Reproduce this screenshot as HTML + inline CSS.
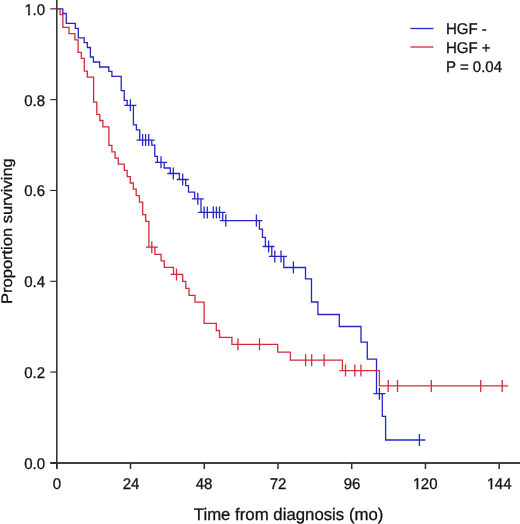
<!DOCTYPE html>
<html><head><meta charset="utf-8"><style>
html,body{margin:0;padding:0;background:#fff;overflow:hidden;}
body{width:520px;height:524px;overflow:hidden;font-family:"Liberation Sans", sans-serif;}
svg{display:block;position:absolute;left:0;top:0;}
.one{display:inline-block;position:relative;left:0.5px;clip-path:polygon(0 0,100% 0,100% 9.6px,5.5px 9.6px,5.5px 100%,3.65px 100%,3.65px 9.6px,0 9.6px);}
.t{position:absolute;white-space:nowrap;color:#111;font-family:"Liberation Sans", sans-serif;text-rendering:geometricPrecision;-webkit-text-stroke:0.3px #111;}
</style></head><body>
<svg width="520" height="524" viewBox="0 0 520 524">
<rect width="520" height="524" fill="#fff"/>
<g fill="none">
<path d="M56.8,0V469" stroke="#2a2a2a" stroke-width="1.5"/>
<path d="M50.3,463H520" stroke="#424242" stroke-width="2"/>
<path d="M50.3,462.90H56.8" stroke="#1e1e1e" stroke-width="1.1"/>
<path d="M50.3,372.09H56.8" stroke="#1e1e1e" stroke-width="1.1"/>
<path d="M50.3,281.28H56.8" stroke="#1e1e1e" stroke-width="1.1"/>
<path d="M50.3,190.47H56.8" stroke="#1e1e1e" stroke-width="1.1"/>
<path d="M50.3,99.66H56.8" stroke="#1e1e1e" stroke-width="1.1"/>
<path d="M50.3,8.85H56.8" stroke="#1e1e1e" stroke-width="1.1"/>
<path d="M56.80,463V469" stroke="#2a2a2a" stroke-width="1.5"/>
<path d="M130.53,463V469" stroke="#2a2a2a" stroke-width="1.5"/>
<path d="M204.26,463V469" stroke="#2a2a2a" stroke-width="1.5"/>
<path d="M277.99,463V469" stroke="#2a2a2a" stroke-width="1.5"/>
<path d="M351.72,463V469" stroke="#2a2a2a" stroke-width="1.5"/>
<path d="M425.45,463V469" stroke="#2a2a2a" stroke-width="1.5"/>
<path d="M499.18,463V469" stroke="#2a2a2a" stroke-width="1.5"/>
</g>
<g fill="none" stroke-width="1.3" stroke-linecap="butt" stroke-linejoin="miter">
<path stroke="#2626c4" d="M56.8,8.85H62.8V13.5H66.3V23.3H75.3V28.4H78.3V37.8H84.2V42.6H87.3V47.5H90.4V57.0H93.4V62.0H99.6V67.0H108.8V71.3H111.9V76.3H121.2V90.7H124.2V100.4H127.2V105.3H133.4V124.8H136.4V129.9H139.7V140.1H151.8V145.2H154.8V156.3H157.4V162.3H164.2V168.0H170.3V173.5H179.4V179.5H185.7V185.7H188.5V192.1H194.7V198.8H201.0V212.4H222.7V220.6H259.4V229.2H262.5V237.4H265.4V246.5H271.8V256.4H283.8V267.5H305.5V278.9H311.5V302.0H317.9V314.5H339.3V326.5H361.0V342.1H367.3V359.1H376.5V393.7H382.3V416.3H385.6V440.0H419.4M124.4,105.3H136.4M130.4,99.3V111.3M136.6,140.1H148.6M142.6,134.1V146.1M139.6,140.1H151.6M145.6,134.1V146.1M142.7,140.1H154.7M148.7,134.1V146.1M155.0,162.3H167.0M161.0,156.3V168.3M167.3,173.5H179.3M173.3,167.5V179.5M176.7,179.5H188.7M182.7,173.5V185.5M191.8,198.8H203.8M197.8,192.8V204.8M198.1,212.4H210.1M204.1,206.4V218.4M201.3,212.4H213.3M207.3,206.4V218.4M207.3,212.4H219.3M213.3,206.4V218.4M210.4,212.4H222.4M216.4,206.4V218.4M213.5,212.4H225.5M219.5,206.4V218.4M219.8,220.6H231.8M225.8,214.6V226.6M250.4,220.6H262.4M256.4,214.6V226.6M262.6,246.5H274.6M268.6,240.5V252.5M268.8,256.4H280.8M274.8,250.4V262.4M275.0,256.4H287.0M281.0,250.4V262.4M287.4,267.5H299.4M293.4,261.5V273.5M373.4,393.7H385.4M379.4,387.7V399.7M413.4,440.0H425.4M419.4,434.0V446.0"/>
<path stroke="#d02c3a" d="M56.8,8.85H60.0V14.7H62.9V27.4H69.0V33.6H74.9V39.9H78.1V52.3H81.3V58.4H84.3V71.1H87.3V77.1H93.6V102.1H96.8V114.4H99.8V120.5H102.9V126.8H108.9V145.4H111.9V151.8H115.1V158.2H118.3V164.2H124.3V170.4H127.2V176.7H130.3V183.0H133.3V189.2H136.2V195.6H139.4V202.1H142.7V214.7H145.7V221.3H148.9V247.2H154.9V254.3H161.1V260.9H164.3V267.4H173.5V274.4H182.7V281.3H185.8V288.4H189.0V295.4H195.0V302.2H204.1V323.3H216.3V330.5H219.5V337.3H231.9V344.3H277.7V352.1H290.4V360.2H342.4V370.6H379.4V385.9H502.2M145.8,247.2H157.8M151.8,241.2V253.2M170.5,274.4H182.5M176.5,268.4V280.4M231.9,344.3H243.9M237.9,338.3V350.3M253.5,344.3H265.5M259.5,338.3V350.3M299.6,360.2H311.6M305.6,354.2V366.2M305.7,360.2H317.7M311.7,354.2V366.2M318.1,360.2H330.1M324.1,354.2V366.2M339.5,370.6H351.5M345.5,364.6V376.6M348.8,370.6H360.8M354.8,364.6V376.6M354.9,370.6H366.9M360.9,364.6V376.6M382.2,385.9H394.2M388.2,379.9V391.9M391.5,385.9H403.5M397.5,379.9V391.9M425.3,385.9H437.3M431.3,379.9V391.9M474.7,385.9H486.7M480.7,379.9V391.9M496.2,385.9H508.2M502.2,379.9V391.9"/>
</g>
<path d="M410.4,28.5H433.5" stroke="#2626c4" stroke-width="1.3"/>
<path d="M410.4,47.0H433.5" stroke="#d02c3a" stroke-width="1.3"/>
</svg>
<div id="txt" style="position:absolute;left:0;top:0;width:520px;height:524px;transform:translateZ(0)">
<div class="t" style="left:-14.70px;top:456.88px;width:60px;font-size:15.5px;line-height:15.5px;text-align:right;transform-origin:60px 13.121px;transform:scaleX(0.9677);">0.0</div>
<div class="t" style="left:-14.70px;top:366.07px;width:60px;font-size:15.5px;line-height:15.5px;text-align:right;transform-origin:60px 13.121px;transform:scaleX(0.9677);">0.2</div>
<div class="t" style="left:-14.70px;top:274.86px;width:60px;font-size:15.5px;line-height:15.5px;text-align:right;transform-origin:60px 13.121px;transform:scaleX(0.9677);">0.4</div>
<div class="t" style="left:-14.70px;top:184.00px;width:60px;font-size:15.5px;line-height:15.5px;text-align:right;transform-origin:60px 13.121px;transform:scaleX(0.9677);">0.6</div>
<div class="t" style="left:-14.70px;top:93.74px;width:60px;font-size:15.5px;line-height:15.5px;text-align:right;transform-origin:60px 13.121px;transform:scaleX(0.9677);">0.8</div>
<div class="t" style="left:-14.70px;top:3.13px;width:60px;font-size:15.5px;line-height:15.5px;text-align:right;transform-origin:60px 13.121px;transform:scaleX(0.9677);"><span class="one">1</span>.0</div>
<div class="t" style="left:36.80px;top:477.08px;width:40px;font-size:15.5px;line-height:15.5px;text-align:center;transform-origin:20.0px 13.121px;transform:scaleX(0.9677);">0</div>
<div class="t" style="left:110.53px;top:477.08px;width:40px;font-size:15.5px;line-height:15.5px;text-align:center;transform-origin:20.0px 13.121px;transform:scaleX(0.9677);">24</div>
<div class="t" style="left:184.26px;top:477.08px;width:40px;font-size:15.5px;line-height:15.5px;text-align:center;transform-origin:20.0px 13.121px;transform:scaleX(0.9677);">48</div>
<div class="t" style="left:257.99px;top:477.08px;width:40px;font-size:15.5px;line-height:15.5px;text-align:center;transform-origin:20.0px 13.121px;transform:scaleX(0.9677);">72</div>
<div class="t" style="left:331.72px;top:477.08px;width:40px;font-size:15.5px;line-height:15.5px;text-align:center;transform-origin:20.0px 13.121px;transform:scaleX(0.9677);">96</div>
<div class="t" style="left:405.45px;top:477.08px;width:40px;font-size:15.5px;line-height:15.5px;text-align:center;transform-origin:20.0px 13.121px;transform:scaleX(0.9677);"><span class="one">1</span>20</div>
<div class="t" style="left:479.18px;top:477.08px;width:40px;font-size:15.5px;line-height:15.5px;text-align:center;transform-origin:20.0px 13.121px;transform:scaleX(0.9677);"><span class="one">1</span>44</div>
<div class="t" style="left:445.50px;top:21.98px;width:70px;font-size:15.5px;line-height:15.5px;text-align:left;transform-origin:0px 13.121px;transform:scaleX(0.9677);">HGF -</div>
<div class="t" style="left:445.50px;top:40.68px;width:70px;font-size:15.5px;line-height:15.5px;text-align:left;transform-origin:0px 13.121px;transform:scaleX(0.9677);">HGF +</div>
<div class="t" style="left:445.50px;top:59.88px;width:70px;font-size:15.5px;line-height:15.5px;text-align:left;transform-origin:0px 13.121px;transform:scaleX(0.9677);">P = 0.04</div>
<div class="t" style="left:138.60px;top:506.88px;width:300px;font-size:16.8px;line-height:16.8px;text-align:center;">Time from diagnosis (mo)</div>
<div class="t" style="left:0;top:0;width:300px;font-size:15.2px;line-height:15.2px;text-align:center;transform-origin:0 0;transform:translate(-0.37px,381.10px) rotate(-90deg) translate(150px,0) scaleX(1.0855) translate(-150px,0)">Proportion surviving</div>
</div></body></html>
